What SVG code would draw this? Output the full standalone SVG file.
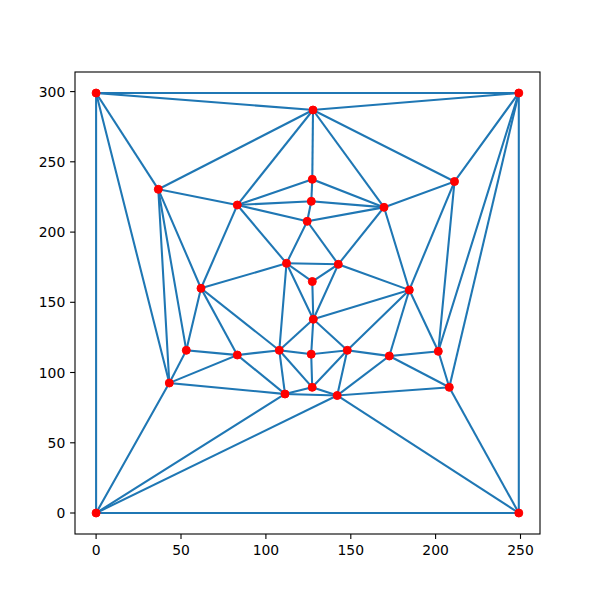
<svg xmlns="http://www.w3.org/2000/svg" width="600" height="600" viewBox="0 0 600 600">
<style>
.e{stroke:#1f77b4;stroke-width:2.08;stroke-linecap:square;fill:none}
.n{fill:#ff0000;stroke:#ff0000;stroke-width:1}
.ax{stroke:#000;stroke-width:1.1;fill:none}
.t{font-family:"DejaVu Sans",sans-serif;font-size:13.9px;fill:#000}
</style>
<rect width="600" height="600" fill="#fff"/>
<g id="axes">
<rect class="ax" x="75" y="72" width="465" height="462"/>
<g class="ax">
<line x1="96.1" y1="534" x2="96.1" y2="538.9"/>
<line x1="181" y1="534" x2="181" y2="538.9"/>
<line x1="265.9" y1="534" x2="265.9" y2="538.9"/>
<line x1="350.8" y1="534" x2="350.8" y2="538.9"/>
<line x1="435.6" y1="534" x2="435.6" y2="538.9"/>
<line x1="520.5" y1="534" x2="520.5" y2="538.9"/>
<line x1="70.1" y1="513" x2="75" y2="513"/>
<line x1="70.1" y1="442.8" x2="75" y2="442.8"/>
<line x1="70.1" y1="372.5" x2="75" y2="372.5"/>
<line x1="70.1" y1="302.3" x2="75" y2="302.3"/>
<line x1="70.1" y1="232.1" x2="75" y2="232.1"/>
<line x1="70.1" y1="161.8" x2="75" y2="161.8"/>
<line x1="70.1" y1="91.6" x2="75" y2="91.6"/>
</g>
<g class="t" text-anchor="middle">
<text x="96.1" y="555">0</text>
<text x="181" y="555">50</text>
<text x="265.9" y="555">100</text>
<text x="350.8" y="555">150</text>
<text x="435.6" y="555">200</text>
<text x="520.5" y="555">250</text>
</g>
<g class="t" text-anchor="end">
<text x="65.3" y="518">0</text>
<text x="65.3" y="447.8">50</text>
<text x="65.3" y="377.5">100</text>
<text x="65.3" y="307.3">150</text>
<text x="65.3" y="237.1">200</text>
<text x="65.3" y="166.8">250</text>
<text x="65.3" y="96.6">300</text>
</g>
</g>
<g id="connectors" class="e">
<line x1="96.1" y1="93" x2="518.8" y2="93"/>
<line x1="96.1" y1="93" x2="96.1" y2="513"/>
<line x1="96.1" y1="513" x2="518.8" y2="513"/>
<line x1="518.8" y1="93" x2="518.8" y2="513"/>
<line x1="96.1" y1="93" x2="313" y2="110"/>
<line x1="518.8" y1="93" x2="313" y2="110"/>
<line x1="96.1" y1="93" x2="158.3" y2="189.3"/>
<line x1="96.1" y1="93" x2="169.3" y2="383"/>
<line x1="518.8" y1="93" x2="454.5" y2="181.5"/>
<line x1="518.8" y1="93" x2="438.3" y2="351.3"/>
<line x1="518.8" y1="93" x2="449.3" y2="387.3"/>
<line x1="96.1" y1="513" x2="169.3" y2="383"/>
<line x1="96.1" y1="513" x2="285" y2="394"/>
<line x1="96.1" y1="513" x2="337.2" y2="395.5"/>
<line x1="518.8" y1="513" x2="337.2" y2="395.5"/>
<line x1="518.8" y1="513" x2="449.3" y2="387.3"/>
<line x1="313" y1="110" x2="158.3" y2="189.3"/>
<line x1="313" y1="110" x2="237.3" y2="205"/>
<line x1="313" y1="110" x2="312.3" y2="179.3"/>
<line x1="313" y1="110" x2="384" y2="207.3"/>
<line x1="313" y1="110" x2="454.5" y2="181.5"/>
<line x1="158.3" y1="189.3" x2="237.3" y2="205"/>
<line x1="158.3" y1="189.3" x2="201" y2="288.3"/>
<line x1="158.3" y1="189.3" x2="186.3" y2="350.3"/>
<line x1="158.3" y1="189.3" x2="169.3" y2="383"/>
<line x1="454.5" y1="181.5" x2="384" y2="207.3"/>
<line x1="454.5" y1="181.5" x2="409.3" y2="290"/>
<line x1="454.5" y1="181.5" x2="438.3" y2="351.3"/>
<line x1="237.3" y1="205" x2="312.3" y2="179.3"/>
<line x1="237.3" y1="205" x2="311.3" y2="201.3"/>
<line x1="237.3" y1="205" x2="307.2" y2="221.3"/>
<line x1="237.3" y1="205" x2="286.5" y2="263.3"/>
<line x1="237.3" y1="205" x2="201" y2="288.3"/>
<line x1="312.3" y1="179.3" x2="311.3" y2="201.3"/>
<line x1="312.3" y1="179.3" x2="384" y2="207.3"/>
<line x1="311.3" y1="201.3" x2="307.2" y2="221.3"/>
<line x1="311.3" y1="201.3" x2="384" y2="207.3"/>
<line x1="307.2" y1="221.3" x2="384" y2="207.3"/>
<line x1="307.2" y1="221.3" x2="286.5" y2="263.3"/>
<line x1="307.2" y1="221.3" x2="338.3" y2="264.3"/>
<line x1="384" y1="207.3" x2="338.3" y2="264.3"/>
<line x1="384" y1="207.3" x2="409.3" y2="290"/>
<line x1="286.5" y1="263.3" x2="338.3" y2="264.3"/>
<line x1="286.5" y1="263.3" x2="312.3" y2="281.5"/>
<line x1="286.5" y1="263.3" x2="313.3" y2="319.3"/>
<line x1="286.5" y1="263.3" x2="201" y2="288.3"/>
<line x1="286.5" y1="263.3" x2="279.3" y2="350.3"/>
<line x1="338.3" y1="264.3" x2="312.3" y2="281.5"/>
<line x1="338.3" y1="264.3" x2="313.3" y2="319.3"/>
<line x1="338.3" y1="264.3" x2="409.3" y2="290"/>
<line x1="312.3" y1="281.5" x2="313.3" y2="319.3"/>
<line x1="201" y1="288.3" x2="186.3" y2="350.3"/>
<line x1="201" y1="288.3" x2="237.3" y2="355"/>
<line x1="201" y1="288.3" x2="279.3" y2="350.3"/>
<line x1="409.3" y1="290" x2="313.3" y2="319.3"/>
<line x1="409.3" y1="290" x2="347.3" y2="350.3"/>
<line x1="409.3" y1="290" x2="389.3" y2="356"/>
<line x1="409.3" y1="290" x2="438.3" y2="351.3"/>
<line x1="313.3" y1="319.3" x2="279.3" y2="350.3"/>
<line x1="313.3" y1="319.3" x2="311.2" y2="354.2"/>
<line x1="313.3" y1="319.3" x2="347.3" y2="350.3"/>
<line x1="186.3" y1="350.3" x2="237.3" y2="355"/>
<line x1="186.3" y1="350.3" x2="169.3" y2="383"/>
<line x1="237.3" y1="355" x2="279.3" y2="350.3"/>
<line x1="237.3" y1="355" x2="169.3" y2="383"/>
<line x1="237.3" y1="355" x2="285" y2="394"/>
<line x1="279.3" y1="350.3" x2="311.2" y2="354.2"/>
<line x1="279.3" y1="350.3" x2="312.2" y2="387.3"/>
<line x1="279.3" y1="350.3" x2="285" y2="394"/>
<line x1="311.2" y1="354.2" x2="347.3" y2="350.3"/>
<line x1="311.2" y1="354.2" x2="312.2" y2="387.3"/>
<line x1="347.3" y1="350.3" x2="389.3" y2="356"/>
<line x1="347.3" y1="350.3" x2="312.2" y2="387.3"/>
<line x1="347.3" y1="350.3" x2="337.2" y2="395.5"/>
<line x1="389.3" y1="356" x2="438.3" y2="351.3"/>
<line x1="389.3" y1="356" x2="337.2" y2="395.5"/>
<line x1="389.3" y1="356" x2="449.3" y2="387.3"/>
<line x1="438.3" y1="351.3" x2="449.3" y2="387.3"/>
<line x1="169.3" y1="383" x2="285" y2="394"/>
<line x1="312.2" y1="387.3" x2="285" y2="394"/>
<line x1="312.2" y1="387.3" x2="337.2" y2="395.5"/>
<line x1="285" y1="394" x2="337.2" y2="395.5"/>
<line x1="337.2" y1="395.5" x2="449.3" y2="387.3"/>
</g>
<g id="nodes" class="n">
<g id="p0"><circle cx="96.1" cy="93" r="4"/></g>
<g id="p1"><circle cx="518.8" cy="93" r="4"/></g>
<g id="p2"><circle cx="96.1" cy="513" r="4"/></g>
<g id="p3"><circle cx="518.8" cy="513" r="4"/></g>
<g id="p4"><circle cx="313" cy="110" r="4"/></g>
<g id="p5"><circle cx="158.3" cy="189.3" r="4"/></g>
<g id="p6"><circle cx="454.5" cy="181.5" r="4"/></g>
<g id="p7"><circle cx="237.3" cy="205" r="4"/></g>
<g id="p8"><circle cx="312.3" cy="179.3" r="4"/></g>
<g id="p9"><circle cx="311.3" cy="201.3" r="4"/></g>
<g id="p10"><circle cx="307.2" cy="221.3" r="4"/></g>
<g id="p11"><circle cx="384" cy="207.3" r="4"/></g>
<g id="p12"><circle cx="286.5" cy="263.3" r="4"/></g>
<g id="p13"><circle cx="338.3" cy="264.3" r="4"/></g>
<g id="p14"><circle cx="312.3" cy="281.5" r="4"/></g>
<g id="p15"><circle cx="201" cy="288.3" r="4"/></g>
<g id="p16"><circle cx="409.3" cy="290" r="4"/></g>
<g id="p17"><circle cx="313.3" cy="319.3" r="4"/></g>
<g id="p18"><circle cx="186.3" cy="350.3" r="4"/></g>
<g id="p19"><circle cx="237.3" cy="355" r="4"/></g>
<g id="p20"><circle cx="279.3" cy="350.3" r="4"/></g>
<g id="p21"><circle cx="311.2" cy="354.2" r="4"/></g>
<g id="p22"><circle cx="347.3" cy="350.3" r="4"/></g>
<g id="p23"><circle cx="389.3" cy="356" r="4"/></g>
<g id="p24"><circle cx="438.3" cy="351.3" r="4"/></g>
<g id="p25"><circle cx="169.3" cy="383" r="4"/></g>
<g id="p26"><circle cx="312.2" cy="387.3" r="4"/></g>
<g id="p27"><circle cx="285" cy="394" r="4"/></g>
<g id="p28"><circle cx="337.2" cy="395.5" r="4"/></g>
<g id="p29"><circle cx="449.3" cy="387.3" r="4"/></g>
</g>
</svg>
